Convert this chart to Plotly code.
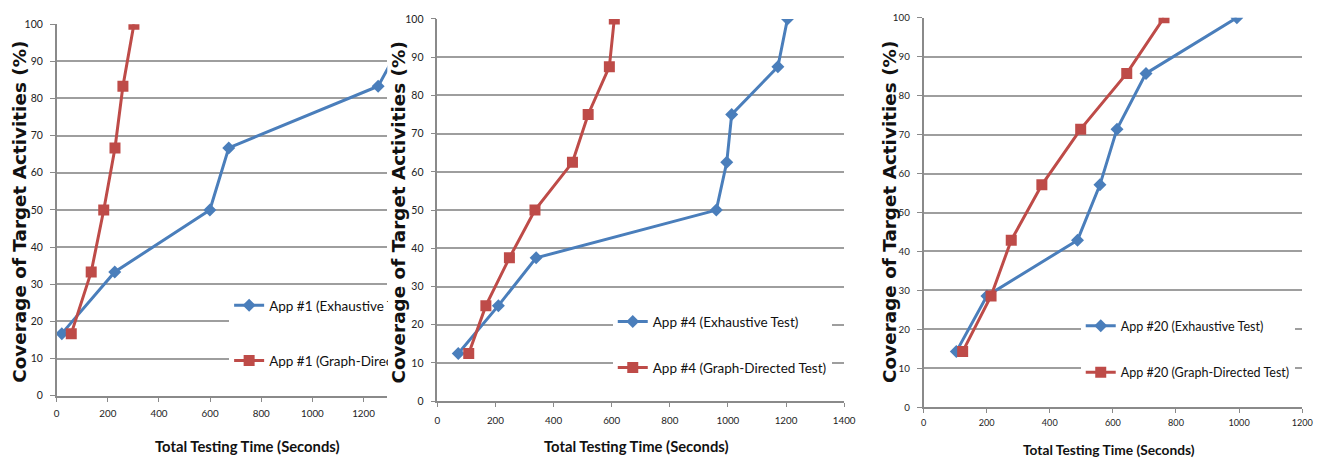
import plotly.graph_objects as go

# ---- data -------------------------------------------------------------
# App #1 (6 target activities)
app1_exh_time = [20, 227, 599, 673, 1257, 1390]
app1_exh_cov = [16.7, 33.3, 50.0, 66.7, 83.3, 100.0]
app1_gd_time = [57, 135, 184, 228, 259, 302]
app1_gd_cov = [16.7, 33.3, 50.0, 66.7, 83.3, 100.0]

# App #4 (8 target activities)
app4_exh_time = [72, 210, 340, 960, 996, 1013, 1172, 1205]
app4_exh_cov = [12.5, 25.0, 37.5, 50.0, 62.5, 75.0, 87.5, 100.0]
app4_gd_time = [108, 167, 248, 336, 465, 519, 592, 609]
app4_gd_cov = [12.5, 25.0, 37.5, 50.0, 62.5, 75.0, 87.5, 100.0]

# App #20 (7 target activities)
app20_exh_time = [104, 201, 488, 559, 613, 705, 993]
app20_exh_cov = [14.3, 28.6, 42.9, 57.1, 71.4, 85.7, 100.0]
app20_gd_time = [124, 214, 278, 375, 498, 644, 762]
app20_gd_cov = [14.3, 28.6, 42.9, 57.1, 71.4, 85.7, 100.0]

legend_names = [
    ["App #1 (Exhaustive T", "App #1 (Graph-Direc"],
    ["App #4 (Exhaustive Test)", "App #4 (Graph-Directed Test)"],
    ["App #20 (Exhaustive Test)", "App #20 (Graph-Directed Test)"],
]
x_title = "Total Testing Time (Seconds)"
y_title = "Coverage of Target Activities (%)"

# ---- layout geometry (pixels) ----------------------------------------
W, H = 1333, 459
BLUE = "#4A7EBB"
RED = "#BE4B48"
GRID = "#9e9e9e"
AXIS = "#8a8a8a"
BODY = "Lato, Roboto, sans-serif"
WIDE = "DejaVu Sans, Verdana, sans-serif"


def px_x(p):
    return p / W


def px_y(p):
    return 1 - p / H


panels = [
    dict(l=54.3, r=388.7, t=17.7, b=400.0, xmax=1293, tickmax=1200,
         ytitle_x=16, xtitle=(247, 452), fs=1.0, xstand=4, title_bg=None,
         legend=(228.7, 304.0, 55.3)),
    dict(l=439.3, r=850.7, t=12.3, b=405.7, xmax=1400, tickmax=1400,
         ytitle_x=400, xtitle=(641, 452), fs=1.0, xstand=5, title_bg="white",
         legend=(616.7, 320.7, 46.0)),
    dict(l=931.0, r=1314.0, t=11.0, b=412.0, xmax=1200, tickmax=1200,
         ytitle_x=896, xtitle=(1119, 455), fs=0.93, xstand=2, title_bg=None,
         legend=(1090.0, 325.0, 46.7)),
]

series = [
    (app1_exh_time, app1_exh_cov, app1_gd_time, app1_gd_cov),
    (app4_exh_time, app4_exh_cov, app4_gd_time, app4_gd_cov),
    (app20_exh_time, app20_exh_cov, app20_gd_time, app20_gd_cov),
]

fig = go.Figure()
annotations = []
layout_axes = {}

for i, (pan, (ex_t, ex_c, gd_t, gd_c)) in enumerate(zip(panels, series)):
    n = "" if i == 0 else str(i + 1)
    xa, ya = "x" + n, "y" + n
    leg = "legend" + n
    fig.add_trace(go.Scatter(
        x=ex_t, y=ex_c, xaxis=xa, yaxis=ya, mode="lines+markers",
        name=legend_names[i][0], legend=leg, legendgroup=f"e{i}",
        line=dict(color=BLUE, width=3),
        marker=dict(symbol="diamond", size=10, color=BLUE),
    ))
    fig.add_trace(go.Scatter(
        x=gd_t, y=gd_c, xaxis=xa, yaxis=ya, mode="lines+markers",
        name=legend_names[i][1], legend=leg, legendgroup=f"g{i}",
        line=dict(color=RED, width=3),
        marker=dict(symbol="square", size=11, color=RED),
    ))

    fs = pan["fs"]
    layout_axes["xaxis" + n] = dict(
        domain=[px_x(pan["l"]), px_x(pan["r"])], anchor=ya,
        range=[0, pan["xmax"]], tickmode="array",
        tickvals=list(range(0, pan["tickmax"] + 1, 200)),
        showgrid=False, zeroline=False, showline=True,
        linecolor=AXIS, linewidth=2, ticks="outside", ticklen=4,
        tickcolor=AXIS, tickwidth=1, ticklabelstandoff=pan["xstand"],
        tickfont=dict(family=BODY, size=9.8 * fs, color="#222222"),
        fixedrange=True,
    )
    layout_axes["yaxis" + n] = dict(
        domain=[px_y(pan["b"]), px_y(pan["t"])], anchor=xa,
        range=[0, 100], tickmode="linear", tick0=0, dtick=10,
        showgrid=True, gridcolor=GRID, gridwidth=1.5,
        zeroline=False, showline=True, linecolor=AXIS, linewidth=1.5,
        ticks="outside", ticklen=5, tickcolor=AXIS, tickwidth=1,
        ticklabelstandoff=5,
        tickfont=dict(family=BODY, size=10.5 * fs, color="#222222"),
        fixedrange=True,
    )

    # legend: first row centre and row pitch given in pixels
    lx, row1, pitch = pan["legend"]
    lfs = 13.5 * fs
    item_h = 1.3 * lfs + 3
    layout_axes[leg] = dict(
        x=px_x(lx), y=px_y(row1 - item_h / 2 - 2.5),
        xanchor="left", yanchor="top",
        bgcolor="white", borderwidth=0,
        tracegroupgap=pitch - item_h,
        font=dict(family=BODY, size=lfs, color="#111111"),
        itemclick=False, itemdoubleclick=False,
    )

    # axis titles; the middle one sits on a white backing over its neighbour
    ytitle = dict(
        text=f"<b>{y_title}</b>", textangle=-90, xref="paper", yref="paper",
        x=px_x(pan["ytitle_x"]), y=px_y(211), xanchor="center",
        yanchor="middle", showarrow=False,
        font=dict(family=WIDE, size=18.4, color="#111111"),
    )
    if pan["title_bg"]:
        ytitle.update(bgcolor=pan["title_bg"], borderpad=0)
    annotations.append(ytitle)
    tx, ty = pan["xtitle"]
    annotations.append(dict(
        text=f"<b>{x_title}</b>", xref="paper", yref="paper",
        x=px_x(tx), y=px_y(ty), xanchor="center", yanchor="middle",
        showarrow=False,
        font=dict(family=BODY, size=14.8 * fs, color="#111111"),
    ))

fig.update_layout(
    width=W, height=H, margin=dict(l=0, r=0, t=0, b=0),
    paper_bgcolor="white", plot_bgcolor="white",
    annotations=annotations, **layout_axes,
)

fig.write_html("out.html")
